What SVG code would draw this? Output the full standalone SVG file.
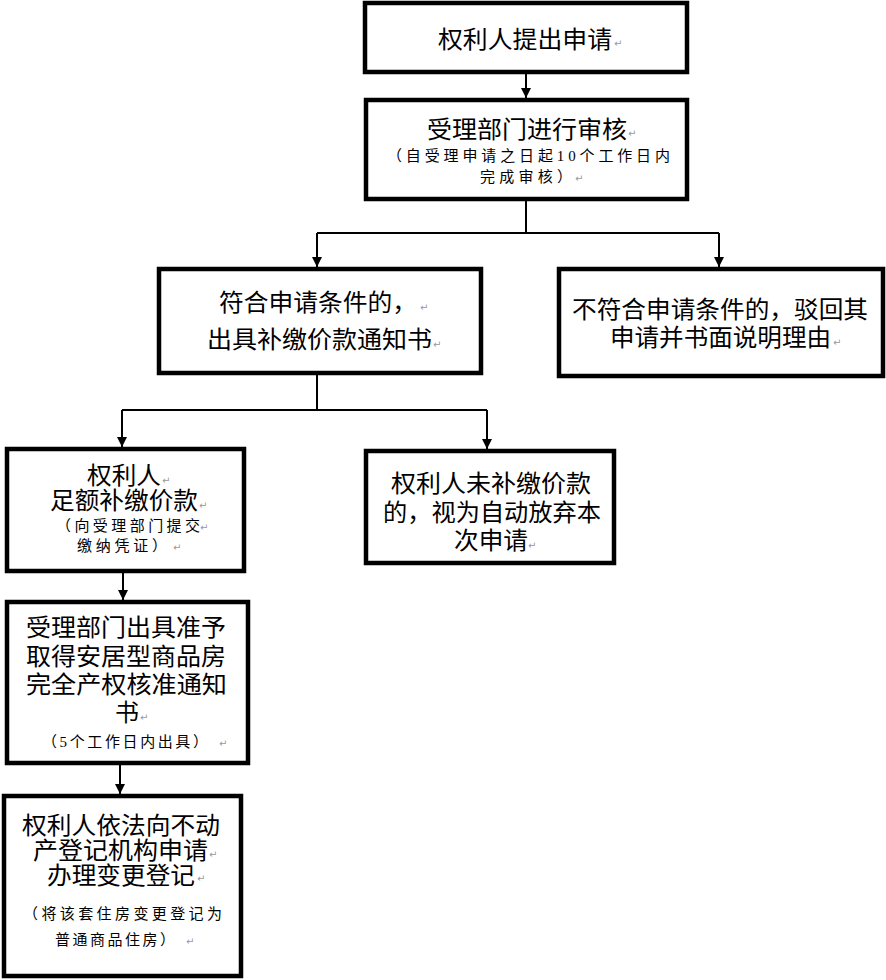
<svg xmlns="http://www.w3.org/2000/svg" width="886" height="980" viewBox="0 0 886 980">
<defs>
<marker id="ah" markerUnits="userSpaceOnUse" markerWidth="11" markerHeight="12" refX="10" refY="6" orient="auto" viewBox="0 0 11 12">
<path d="M0,1 L10,6 L0,11 Z" fill="#000"/>
</marker>
</defs>
<style>
.box{fill:#fff;stroke:#000;stroke-width:4.5}
.t{font-family:"Liberation Serif","Noto Sans CJK SC",serif;font-size:24px;fill:#000}
.s{font-family:"Liberation Serif","Noto Sans CJK SC",serif;font-size:15px;fill:#000}
.r{font-family:"DejaVu Sans",sans-serif;font-size:10px;fill:#999}
.c{fill:none;stroke:#000;stroke-width:2}
</style>
<rect width="886" height="980" fill="#fff"/>
<g id="connectors">
<path class="c" d="M526,74 V98" marker-end="url(#ah)"/>
<path class="c" d="M526,201 V233 M317,233 H719"/>
<path class="c" d="M317,233 V267" marker-end="url(#ah)"/>
<path class="c" d="M719,233 V267" marker-end="url(#ah)"/>
<path class="c" d="M317,375 V410 M122,410 H487"/>
<path class="c" d="M122,410 V447" marker-end="url(#ah)"/>
<path class="c" d="M487,410 V449" marker-end="url(#ah)"/>
<path class="c" d="M123,573 V600" marker-end="url(#ah)"/>
<path class="c" d="M120,765 V794" marker-end="url(#ah)"/>
</g>
<g id="n1">
<rect class="box" x="365" y="3" width="322" height="69"/>
<text class="t" x="438" y="48" textLength="174" lengthAdjust="spacingAndGlyphs">权利人提出申请</text>
<text class="r" x="614" y="47">↵</text>
</g>
<g id="n2">
<rect class="box" x="366" y="100" width="321" height="99"/>
<text class="t" x="427" y="138" textLength="200" lengthAdjust="spacingAndGlyphs">受理部门进行审核</text>
<text class="r" x="628" y="137">↵</text>
<text class="s" x="387" y="161" textLength="283" lengthAdjust="spacing">（自受理申请之日起10个工作日内</text>
<text class="s" x="480" y="182" textLength="92" lengthAdjust="spacing">完成审核）</text>
<text class="r" x="575" y="182">↵</text>
</g>
<g id="n3">
<rect class="box" x="159" y="269" width="322" height="104"/>
<text class="t" x="219" y="311" textLength="198" lengthAdjust="spacingAndGlyphs">符合申请条件的，</text>
<text class="r" x="420" y="311">↵</text>
<text class="t" x="207" y="348" textLength="225" lengthAdjust="spacingAndGlyphs">出具补缴价款通知书</text>
<text class="r" x="433" y="348">↵</text>
</g>
<g id="n4">
<rect class="box" x="559" y="269" width="324" height="107"/>
<text class="t" x="572" y="318" textLength="296" lengthAdjust="spacingAndGlyphs">不符合申请条件的，驳回其</text>
<text class="t" x="610" y="346" textLength="221" lengthAdjust="spacingAndGlyphs">申请并书面说明理由</text>
<text class="r" x="833" y="346">↵</text>
</g>
<g id="n5">
<rect class="box" x="7" y="449" width="237" height="122"/>
<text class="t" x="87" y="484" textLength="74" lengthAdjust="spacingAndGlyphs">权利人</text>
<text class="r" x="162" y="484">↵</text>
<text class="t" x="50" y="509" textLength="148" lengthAdjust="spacingAndGlyphs">足额补缴价款</text>
<text class="r" x="199" y="509">↵</text>
<text class="s" x="56" y="531" textLength="144" lengthAdjust="spacing">（向受理部门提交</text>
<text class="r" x="200" y="531">↵</text>
<text class="s" x="77" y="551" textLength="90" lengthAdjust="spacing">缴纳凭证）</text>
<text class="r" x="173" y="551">↵</text>
</g>
<g id="n6">
<rect class="box" x="366" y="451" width="248" height="112"/>
<text class="t" x="391" y="492" textLength="200" lengthAdjust="spacingAndGlyphs">权利人未补缴价款</text>
<text class="t" x="383" y="521" textLength="218" lengthAdjust="spacingAndGlyphs">的，视为自动放弃本</text>
<text class="t" x="454" y="549" textLength="74" lengthAdjust="spacingAndGlyphs">次申请</text>
<text class="r" x="528" y="549">↵</text>
</g>
<g id="n7">
<rect class="box" x="7" y="602" width="241" height="161"/>
<text class="t" x="26" y="636" textLength="200" lengthAdjust="spacingAndGlyphs">受理部门出具准予</text>
<text class="t" x="26" y="665" textLength="200" lengthAdjust="spacingAndGlyphs">取得安居型商品房</text>
<text class="t" x="26" y="693" textLength="201" lengthAdjust="spacingAndGlyphs">完全产权核准通知</text>
<text class="t" x="115" y="721" textLength="24" lengthAdjust="spacingAndGlyphs">书</text>
<text class="r" x="140" y="721">↵</text>
<text class="s" x="42" y="747" textLength="166" lengthAdjust="spacing">（5个工作日内出具）</text>
<text class="r" x="219" y="747">↵</text>
</g>
<g id="n8">
<rect class="box" x="4" y="796" width="237" height="180"/>
<text class="t" x="22" y="834" textLength="198" lengthAdjust="spacingAndGlyphs">权利人依法向不动</text>
<text class="t" x="33" y="859" textLength="175" lengthAdjust="spacingAndGlyphs">产登记机构申请</text>
<text class="r" x="209" y="858">↵</text>
<text class="t" x="47" y="884" textLength="148" lengthAdjust="spacingAndGlyphs">办理变更登记</text>
<text class="r" x="197" y="882">↵</text>
<text class="s" x="23" y="919" textLength="199" lengthAdjust="spacing">（将该套住房变更登记为</text>
<text class="s" x="55" y="945" textLength="120" lengthAdjust="spacing">普通商品住房）</text>
<text class="r" x="186" y="945">↵</text>
</g>
</svg>
